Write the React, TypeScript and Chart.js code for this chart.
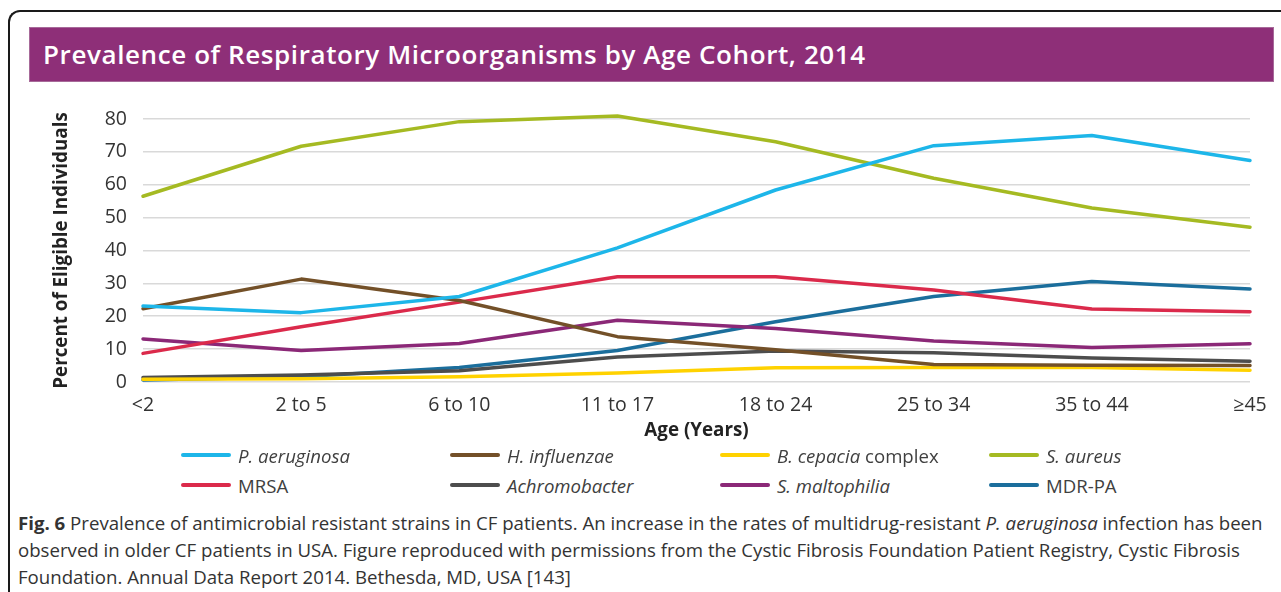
import React, { useEffect, useRef } from "react";
import { Chart, registerables } from "chart.js";

Chart.register(...registerables);

const categories = ["<2", "2 to 5", "6 to 10", "11 to 17", "18 to 24", "25 to 34", "35 to 44", "≥45"];
const yTicks = [0, 10, 20, 30, 40, 50, 60, 70, 80];

const seriesNames = ["P. aeruginosa", "H. influenzae", "B. cepacia complex", "S. aureus", "MRSA", "Achromobacter", "S. maltophilia", "MDR-PA"];
const seriesItalic = ["P. aeruginosa", "H. influenzae", "B. cepacia", "S. aureus", "", "Achromobacter", "S. maltophilia", ""];
const seriesColors = ["#1DB6E9", "#735028", "#FFD200", "#A5BA22", "#DB2A4B", "#4D4D4D", "#8B2877", "#1B6E9C"];

const pAeruginosa = [23.1, 21.1, 26.0, 40.8, 58.4, 71.9, 75.0, 67.4];
const hInfluenzae = [22.3, 31.3, 24.8, 13.8, 9.8, 5.3, 5.1, 5.0];
const bCepacia = [0.8, 1.0, 1.6, 2.7, 4.3, 4.4, 4.4, 3.6];
const sAureus = [56.5, 71.7, 79.2, 80.9, 73.1, 62.0, 52.9, 47.1];
const mrsa = [8.7, 16.8, 24.3, 32.0, 32.0, 28.0, 22.2, 21.4];
const achromobacter = [1.4, 2.1, 3.4, 7.6, 9.4, 8.9, 7.3, 6.3];
const sMaltophilia = [13.1, 9.6, 11.7, 18.8, 16.3, 12.5, 10.5, 11.6];
const mdrPa = [0.6, 1.6, 4.4, 9.6, 18.3, 26.0, 30.6, 28.3];

const seriesValues = [pAeruginosa, hInfluenzae, bCepacia, sAureus, mrsa, achromobacter, sMaltophilia, mdrPa];

const chartTitle = "Prevalence of Respiratory Microorganisms by Age Cohort, 2014";
const yTitle = "Percent of Eligible Individuals";
const xTitle = "Age (Years)";

const FONT = "'Open Sans', 'Noto Sans', sans-serif";

function LegendLabel({ name, italic }: { name: string; italic: string }) {
  if (italic && name.startsWith(italic)) {
    return (
      <span>
        <i>{italic}</i>
        {name.slice(italic.length)}
      </span>
    );
  }
  return <span>{name}</span>;
}

export default function App() {
  const canvasRef = useRef<HTMLCanvasElement | null>(null);

  useEffect(() => {
    if (!canvasRef.current) return;
    const chart = new Chart(canvasRef.current, {
      type: "line",
      data: {
        labels: categories,
        datasets: seriesNames.map((name, i) => ({
          label: name,
          data: seriesValues[i],
          borderColor: seriesColors[i],
          backgroundColor: seriesColors[i],
          borderWidth: 3.5,
          pointRadius: 0,
          pointHoverRadius: 0,
          tension: 0,
          fill: false,
          clip: 8,
          borderCapStyle: "round" as const,
          borderJoinStyle: "round" as const,
        })),
      },
      options: {
        animation: false,
        responsive: true,
        maintainAspectRatio: false,
        layout: { padding: { left: 50, right: 31, top: 19, bottom: 0 } },
        plugins: {
          legend: { display: false },
          tooltip: { enabled: false },
          title: { display: false },
        },
        scales: {
          x: {
            offset: false,
            grid: { display: false, drawTicks: false },
            border: { display: false },
            ticks: {
              color: "#333333",
              font: { family: FONT, size: 19.5 },
              padding: 12,
              maxRotation: 0,
              autoSkip: false,
            },
            title: {
              display: true,
              text: xTitle,
              color: "#222222",
              font: { family: FONT, size: 18.8, weight: "bold" },
              padding: { top: 0, bottom: 3 },
            },
            afterFit: (s: any) => {
              s.height = 63;
            },
          },
          y: {
            min: 0,
            max: 80,
            afterBuildTicks: (s: any) => {
              s.ticks = yTicks.map((v) => ({ value: v }));
            },
            grid: { color: "#D9D9D9", lineWidth: 1.6, drawTicks: false },
            border: { display: false },
            ticks: {
              color: "#333333",
              font: { family: FONT, size: 19.5 },
              padding: 16,
            },
            title: {
              display: true,
              text: yTitle,
              color: "#222222",
              font: { family: FONT, size: 18.8, weight: "bold" },
              padding: { top: 0, bottom: 0 },
            },
            afterFit: (s: any) => {
              s.width = 93;
              s.paddingTop = 0;
              s.paddingBottom = 0;
            },
          },
        },
      },
    });
    return () => chart.destroy();
  }, []);

  const legendCols = [181, 450, 720, 989];
  const legendRows = [455, 485];

  return (
    <div
      style={{
        position: "absolute",
        left: 0,
        top: 0,
        width: 1281,
        height: 592,
        overflow: "hidden",
        background: "#ffffff",
        fontFamily: FONT,
      }}
    >
      <div
        style={{
          position: "absolute",
          left: 8,
          top: 10,
          width: 1320,
          height: 640,
          borderTop: "2px solid #1a1a1a",
          borderLeft: "2px solid #1a1a1a",
          borderTopLeftRadius: 12,
          boxSizing: "border-box",
        }}
      />
      <div
        style={{
          position: "absolute",
          left: 29,
          top: 27,
          width: 1245,
          height: 55,
          background: "#8E2F78",
          boxSizing: "border-box",
          border: "1px solid #a76a99",
          color: "#ffffff",
          fontFamily: FONT,
          fontWeight: 600,
          fontSize: 26,
          letterSpacing: 0.6,
          lineHeight: "53px",
          paddingLeft: 13,
          whiteSpace: "nowrap",
        }}
      >
        {chartTitle}
      </div>
      <div style={{ position: "absolute", left: 0, top: 100, width: 1281, height: 345 }}>
        <canvas ref={canvasRef} />
      </div>
      {seriesNames.map((name, i) => {
        const col = i % 4;
        const row = Math.floor(i / 4);
        return (
          <div
            key={name}
            style={{
              position: "absolute",
              left: legendCols[col],
              top: legendRows[row] - 12,
              height: 24,
              display: "flex",
              alignItems: "center",
              whiteSpace: "nowrap",
              fontFamily: FONT,
              fontSize: 18.6,
              color: "#404040",
            }}
          >
            <span
              style={{
                display: "inline-block",
                width: 50,
                height: 4,
                borderRadius: 2,
                background: seriesColors[i],
                marginRight: 7,
              }}
            />
            <LegendLabel name={name} italic={seriesItalic[i]} />
          </div>
        );
      })}
      <div
        style={{
          position: "absolute",
          left: 18,
          top: 509,
          width: 1270,
          fontFamily: "'Open Sans', 'Noto Sans', sans-serif",
          fontSize: 18.65,
          lineHeight: "27px",
          color: "#333333",
          whiteSpace: "nowrap",
        }}
      >
        <b>Fig. 6</b> Prevalence of antimicrobial resistant strains in CF patients. An increase in the rates of multidrug-resistant <i>P. aeruginosa</i> infection has been
        <br />
        observed in older CF patients in USA. Figure reproduced with permissions from the Cystic Fibrosis Foundation Patient Registry, Cystic Fibrosis
        <br />
        Foundation. Annual Data Report 2014. Bethesda, MD, USA [143]
      </div>
    </div>
  );
}
